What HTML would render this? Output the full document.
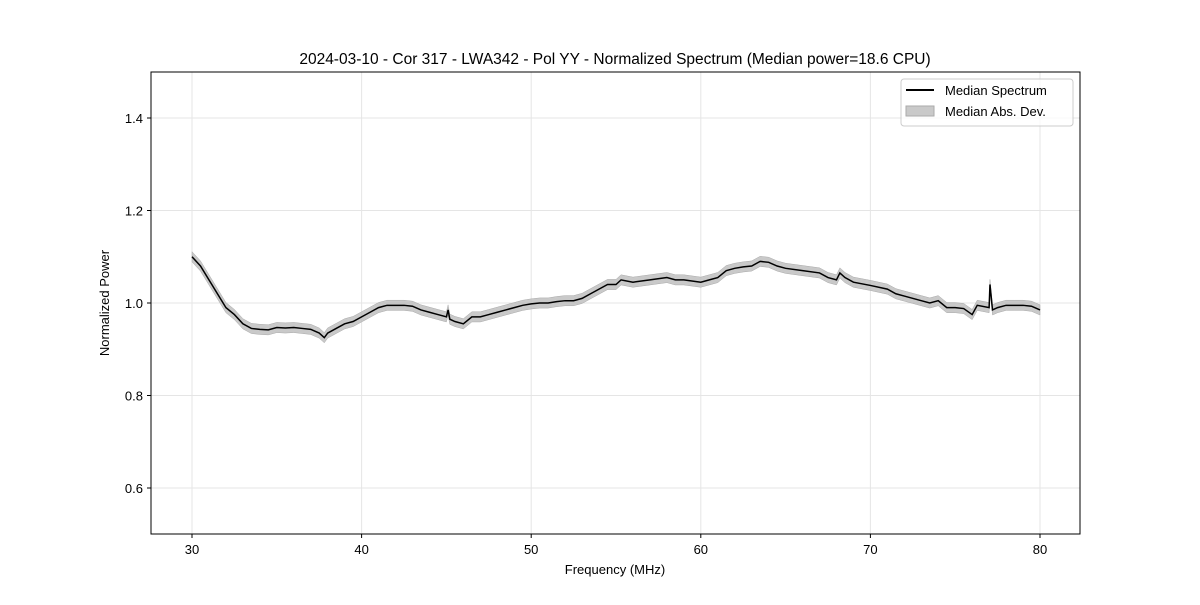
<!DOCTYPE html>
<html><head><meta charset="utf-8"><style>
body{margin:0;background:#fff;font-family:"Liberation Sans","DejaVu Sans",sans-serif;}
</style></head><body>
<svg id="chart" width="1200" height="600" xmlns="http://www.w3.org/2000/svg">
<rect width="1200" height="600" fill="#fff"/>
<text x="615" y="64" text-anchor="middle" font-size="15.5" fill="#000">2024-03-10 - Cor 317 - LWA342 - Pol YY - Normalized Spectrum (Median power=18.6 CPU)</text>
<g id="grid"></g>
<g id="plot"></g>
<rect x="151" y="72" width="929" height="462" fill="none" stroke="#000" stroke-width="1"/>
<g id="axes"></g>
<text x="615" y="574" text-anchor="middle" font-size="13">Frequency (MHz)</text>
<text x="109" y="303" text-anchor="middle" font-size="13" transform="rotate(-90 109 303)">Normalized Power</text>
<g>
<rect x="901" y="79" width="172" height="47" rx="3" fill="#fff" fill-opacity="0.8" stroke="#ccc"/>
<g><line x1="906" y1="90" x2="934" y2="90" stroke="#000" stroke-width="2"/><text x="945" y="95" font-size="13">Median Spectrum</text></g>
<g><rect x="906" y="106" width="28" height="10" fill="#bbb" fill-opacity="0.8" stroke="#aaa"/><text x="945" y="116" font-size="13">Median Abs. Dev.</text></g>
</g>
</svg>
<script>
const freqs=[30,30.5,31,31.5,32,32.5,33,33.5,34,34.5,35,35.5,36,36.5,37,37.5,37.8,38,38.5,39,39.5,40,40.5,41,41.5,42,42.5,43,43.5,44,44.5,45,45.1,45.2,45.5,46,46.5,47,47.5,48,48.5,49,49.5,50,50.5,51,51.5,52,52.5,53,53.5,54,54.5,55,55.3,56,57,58,58.5,59,60,60.5,61,61.5,62,62.5,63,63.5,64,64.5,65,66,67,67.5,68,68.2,68.5,69,70,71,71.5,72,73,73.5,74,74.5,75,75.5,76,76.3,77,77.05,77.2,77.5,78,78.5,79,79.5,80];
const power=[1.10,1.08,1.05,1.02,0.99,0.975,0.955,0.945,0.943,0.942,0.947,0.946,0.947,0.945,0.943,0.935,0.925,0.935,0.945,0.955,0.96,0.97,0.98,0.99,0.995,0.995,0.995,0.993,0.985,0.98,0.975,0.97,0.985,0.965,0.96,0.955,0.97,0.97,0.975,0.98,0.985,0.99,0.995,0.998,1.0,1.0,1.003,1.005,1.005,1.01,1.02,1.03,1.04,1.04,1.05,1.045,1.05,1.055,1.05,1.05,1.045,1.05,1.055,1.07,1.075,1.078,1.08,1.09,1.088,1.08,1.075,1.07,1.065,1.055,1.05,1.065,1.055,1.045,1.038,1.03,1.02,1.015,1.005,1.0,1.005,0.99,0.99,0.988,0.975,0.995,0.99,1.04,0.985,0.99,0.995,0.995,0.995,0.993,0.985];
const mad=0.011;
const xTicks=[30,40,50,60,70,80];
const yTicks=[0.6,0.8,1.0,1.2,1.4];
const X=v=>192+(v-30)*16.96, Y=v=>303-(v-1)*462.5;
const NS="http://www.w3.org/2000/svg";
function mk(t,a,p){const e=document.createElementNS(NS,t);for(const k in a)e.setAttribute(k,a[k]);p.appendChild(e);return e;}
const grid=document.getElementById('grid'),axes=document.getElementById('axes'),plot=document.getElementById('plot');
xTicks.forEach(v=>{const x=X(v);
const g=mk('line',{x1:x,x2:x,y1:72,y2:534,stroke:'#e5e5e5'},grid);


mk('line',{x1:x,x2:x,y1:534,y2:538,stroke:'#000'},axes);
const t=mk('text',{x:x,y:554,'text-anchor':'middle','font-size':13},axes);t.textContent=v;

});
yTicks.forEach(v=>{const y=Y(v);
const g=mk('line',{x1:151,x2:1080,y1:y,y2:y,stroke:'#e5e5e5'},grid);


mk('line',{x1:147,x2:151,y1:y,y2:y,stroke:'#000'},axes);
const t=mk('text',{x:143,y:y+5,'text-anchor':'end','font-size':13},axes);t.textContent=v.toFixed(1);

});
let up=freqs.map((f,i)=>X(f)+','+Y(power[i]+mad)),dn=freqs.map((f,i)=>X(f)+','+Y(power[i]-mad)).reverse();
const band=mk('polygon',{points:up.concat(dn).join(' '),fill:'#bbb','fill-opacity':0.8,stroke:'#aaa','stroke-width':0.5},plot);


const line=mk('polyline',{points:freqs.map((f,i)=>X(f)+','+Y(power[i])).join(' '),fill:'none',stroke:'#000','stroke-width':1.5},plot);


</script>
</body></html>
